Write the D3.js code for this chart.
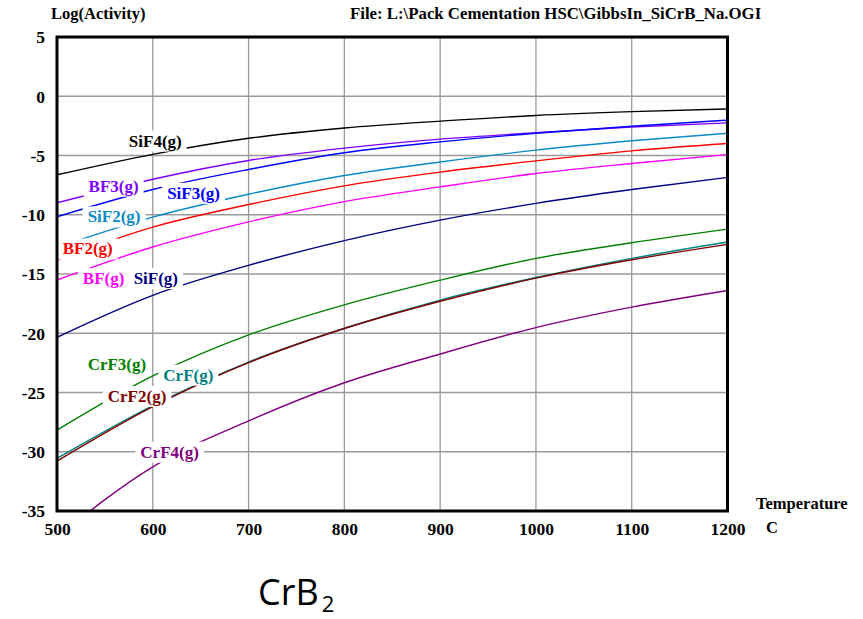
<!DOCTYPE html>
<html>
<head>
<meta charset="utf-8">
<script src="https://cdn.jsdelivr.net/npm/d3@7"></script>
<style>
  html, body { margin: 0; padding: 0; background: #fff; }
  svg { display: block; }
  text { font-family: "Liberation Serif", "Times New Roman", serif; font-weight: bold; }
</style>
</head>
<body>
<svg id="chart" width="863" height="619"></svg>
<script>
// ---- data ----
const temperatures = [500, 600, 700, 800, 900, 1000, 1100, 1200];
const xTicks = [500, 600, 700, 800, 900, 1000, 1100, 1200];
const yTicks = [5, 0, -5, -10, -15, -20, -25, -30, -35];

const SiF4 = [-6.63, -4.90, -3.55, -2.68, -2.10, -1.62, -1.30, -1.07];
const BF3  = [-8.99, -7.00, -5.42, -4.38, -3.62, -3.08, -2.60, -2.25];
const SiF3 = [-10.17, -7.87, -6.18, -4.77, -3.85, -3.12, -2.53, -2.02];
const SiF2 = [-12.75, -10.20, -8.27, -6.69, -5.55, -4.55, -3.76, -3.12];
const BF2  = [-13.82, -11.04, -9.14, -7.56, -6.40, -5.45, -4.61, -3.99];
const BF   = [-15.51, -12.72, -10.60, -8.89, -7.65, -6.52, -5.67, -4.92];
const SiF  = [-20.34, -16.80, -14.27, -12.18, -10.45, -9.04, -7.87, -6.85];
const CrF3 = [-28.17, -23.60, -20.14, -17.60, -15.52, -13.68, -12.36, -11.21];
const CrF  = [-30.56, -26.10, -22.43, -19.58, -17.20, -15.30, -13.68, -12.30];
const CrF2 = [-30.79, -26.20, -22.48, -19.60, -17.30, -15.35, -13.80, -12.50];
const CrF4 = [-37.20, -31.27, -27.40, -24.18, -21.75, -19.52, -17.80, -16.39];

const seriesNames  = ["SiF4(g)", "BF3(g)", "SiF3(g)", "SiF2(g)", "BF2(g)", "BF(g)", "SiF(g)", "CrF3(g)", "CrF(g)", "CrF2(g)", "CrF4(g)"];
const seriesValues = [SiF4, BF3, SiF3, SiF2, BF2, BF, SiF, CrF3, CrF, CrF2, CrF4];
const seriesColors = ["#000000", "#8000ff", "#0000ff", "#0a8ac8", "#ff0000", "#ff00ff", "#000080", "#008000", "#008080", "#800000", "#800080"];
// label anchor points in data units (temperature, log activity at baseline)
const labelT = [575, 533, 615, 532, 506, 527, 580, 532, 611, 553, 587];
const labelV = [-4.25, -8.05, -8.65, -10.65, -13.35, -15.85, -15.85, -23.1, -24.0, -25.8, -30.5];

const title = "Log(Activity)";
const fileText = "File: L:\\Pack Cementation HSC\\GibbsIn_SiCrB_Na.OGI";
const xTitle1 = "Temperature";
const xTitle2 = "C";

// ---- layout ----
const svg = d3.select("#chart");
const pLeft = 57, pRight = 727.5, pTop = 37, pBottom = 511;
const x = d3.scaleLinear().domain([500, 1200]).range([pLeft, pRight]);
const y = d3.scaleLinear().domain([-35, 5]).range([pBottom, pTop]);

svg.append("defs").append("clipPath").attr("id", "plotclip")
  .append("rect").attr("x", pLeft).attr("y", pTop).attr("width", pRight - pLeft).attr("height", pBottom - pTop);

// grid
const grid = svg.append("g");
grid.selectAll("line.v").data(xTicks.slice(1, -1)).join("line")
  .attr("x1", d => x(d)).attr("x2", d => x(d)).attr("y1", pTop).attr("y2", pBottom)
  .attr("stroke", "#9a9a9a").attr("stroke-width", 1.3);
grid.selectAll("line.h").data(yTicks.slice(1, -1)).join("line")
  .attr("y1", d => y(d)).attr("y2", d => y(d)).attr("x1", pLeft).attr("x2", pRight)
  .attr("stroke", "#9a9a9a").attr("stroke-width", 1.3);

// series lines
const line = d3.line().x((d, i) => x(temperatures[i])).y(d => y(d)).curve(d3.curveMonotoneX);
const lines = svg.append("g").attr("clip-path", "url(#plotclip)");
seriesValues.forEach((vals, k) => {
  lines.append("path").attr("d", line(vals)).attr("fill", "none")
    .attr("stroke", seriesColors[k]).attr("stroke-width", 1.4);
});

// labels with white backgrounds
const labels = svg.append("g");
seriesNames.forEach((name, k) => {
  const g = labels.append("g");
  const r = g.append("rect").attr("fill", "#fff");
  const t = g.append("text").attr("x", x(labelT[k])).attr("y", y(labelV[k]))
    .attr("font-size", 17).attr("fill", seriesColors[k]).text(name);
  const bb = t.node().getBBox();
  r.attr("x", bb.x - 5).attr("y", bb.y - 1).attr("width", bb.width + 10).attr("height", bb.height + 2);
});

// frame
svg.append("rect").attr("x", pLeft).attr("y", pTop).attr("width", pRight - pLeft).attr("height", pBottom - pTop)
  .attr("fill", "none").attr("stroke", "#000").attr("stroke-width", 3);

// axes via d3 axis generators (ticks hidden, labels only)
const yAxis = svg.append("g").attr("transform", `translate(${pLeft},0)`)
  .call(d3.axisLeft(y).tickValues(yTicks).tickSize(0).tickPadding(12).tickFormat(d => String(d)));
yAxis.select(".domain").remove();
yAxis.selectAll("text").attr("font-size", 17.5).attr("fill", "#000")
  .style("font-family", "'Liberation Serif', serif").style("font-weight", "bold")
  .attr("dy", "0.33em");

const xAxis = svg.append("g").attr("transform", `translate(0,${pBottom})`)
  .call(d3.axisBottom(x).tickValues(xTicks).tickSize(0).tickPadding(12).tickFormat(d => String(d)));
xAxis.select(".domain").remove();
xAxis.selectAll("text").attr("font-size", 17.5).attr("fill", "#000")
  .style("font-family", "'Liberation Serif', serif").style("font-weight", "bold");

// titles
svg.append("text").attr("x", 51).attr("y", 19).attr("font-size", 16.5).text(title);
svg.append("text").attr("x", 350).attr("y", 19).attr("font-size", 16.8).text(fileText);
svg.append("text").attr("x", 756).attr("y", 509).attr("font-size", 16.5).text(xTitle1);
svg.append("text").attr("x", 766).attr("y", 533).attr("font-size", 16.5).text(xTitle2);

// compound caption
const cap = svg.append("text").attr("x", 258).attr("y", 605)
  .style("font-family", "'Open Sans', 'Noto Sans', sans-serif").style("font-weight", "normal")
  .attr("font-size", 36).attr("fill", "#000");
cap.append("tspan").text("CrB");
cap.append("tspan").attr("font-size", 22).attr("dx", 3).attr("dy", 7).text("2");
</script>
</body>
</html>
